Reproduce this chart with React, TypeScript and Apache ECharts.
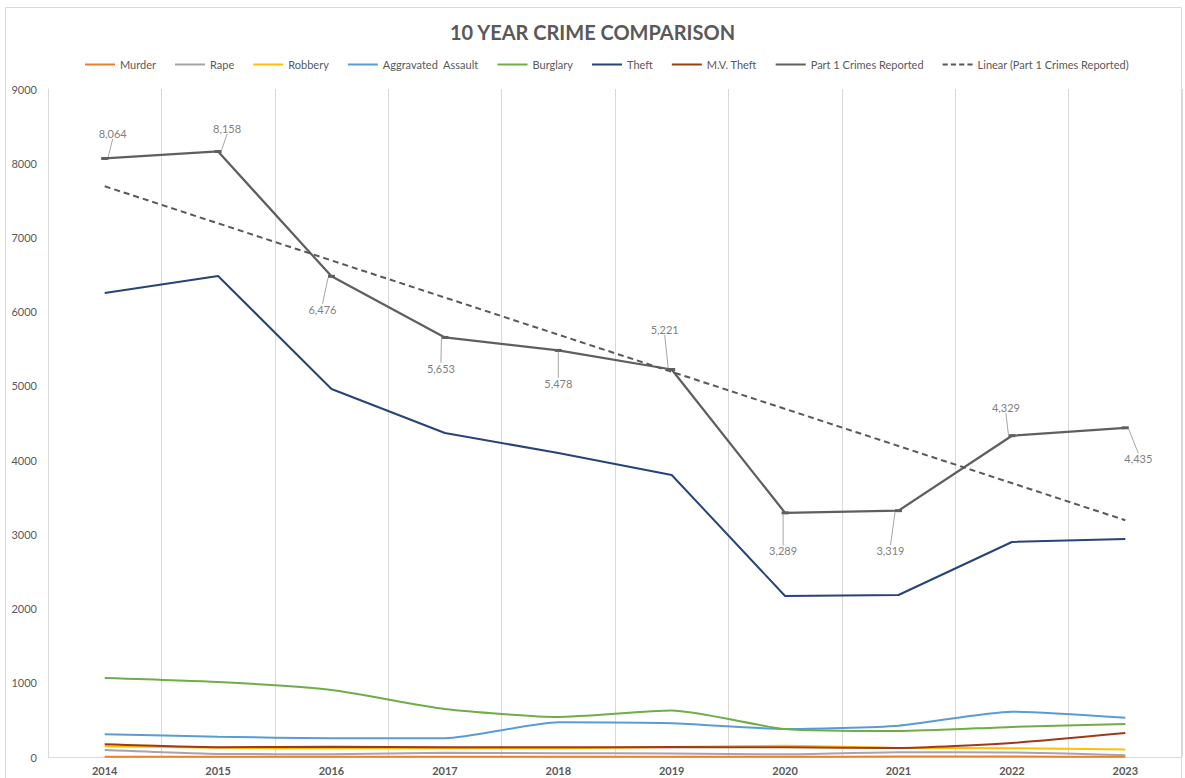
import React, { useEffect, useRef } from "react";
import * as echarts from "echarts";

const years = ["2014", "2015", "2016", "2017", "2018", "2019", "2020", "2021", "2022", "2023"];
const murder = [5, 3, 4, 5, 4, 5, 3, 6, 6, 3];
const rape = [94, 42, 38, 58, 50, 48, 36, 65, 62, 24];
const robbery = [146, 124, 117, 118, 118, 135, 150, 122, 118, 100];
const aggAssault = [306, 274, 252, 252, 467, 454, 377, 422, 611, 530];
const burglary = [1065, 1011, 903, 647, 540, 625, 377, 350, 405, 445];
const theft = [6252, 6481, 4958, 4365, 4096, 3800, 2169, 2183, 2897, 2937];
const mvTheft = [171, 132, 139, 130, 130, 135, 130, 121, 189, 323];
const part1 = [8064, 8158, 6476, 5653, 5478, 5221, 3289, 3319, 4329, 4435];
const linearTrend = [7690, null, null, null, null, null, null, null, null, 3190];

const labelDx = [8, 9, -9, -4, 0, -7, -2, -8, -6, 13];
const labelDy = [-25, -23, 33, 31, 33, -40, 38, 40, -28, 31];

const FONT = "Lato, 'Noto Sans', sans-serif";
const SOLID_ICON = "path://M0,0H30V2H0Z";
const DASH_ICON = "path://M0,0H5V2H0Z M8,0H13V2H8Z M16,0H21V2H16Z M24,0H29V2H24Z";

export default function App() {
  const ref = useRef<HTMLDivElement>(null);
  useEffect(() => {
    if (!ref.current) return;
    const chart = echarts.init(ref.current, null, { renderer: "svg" });
    const mk = (name: string, data: any[], color: string, smooth: number | boolean, width = 2, extra: any = {}) => ({
      name,
      type: "line",
      data,
      smooth,
      symbol: "none",
      lineStyle: { color, width },
      itemStyle: { color },
      ...extra,
    });
    const names = [
      "Murder",
      "Rape",
      "Robbery",
      "Aggravated  Assault",
      "Burglary",
      "Theft",
      "M.V. Theft",
      "Part 1 Crimes Reported",
      "Linear (Part 1 Crimes Reported)",
    ];
    chart.setOption({
      animation: false,
      textStyle: { fontFamily: FONT },
      title: {
        text: "10 YEAR CRIME COMPARISON",
        left: "center",
        top: 17,
        textStyle: { fontFamily: FONT, fontSize: 20, fontWeight: "bold", color: "#595959" },
      },
      legend: {
        top: 54,
        left: 80,
        itemWidth: 30,
        itemHeight: 14,
        itemGap: 19,
        itemStyle: { borderWidth: 0 },
        textStyle: { fontFamily: FONT, fontSize: 11, color: "#595959" },
        data: names.map((n, i) => ({ name: n, icon: i === 8 ? DASH_ICON : SOLID_ICON })),
      },
      graphic: [
        {
          type: "rect",
          z: -10,
          shape: { x: 5.5, y: 7.5, width: 1176, height: 780 },
          style: { fill: "none", stroke: "#d9d9d9", lineWidth: 1 },
        },
      ],
      grid: { left: 48, right: 3, top: 89, bottom: 21 },
      xAxis: {
        type: "category",
        data: years,
        boundaryGap: true,
        axisLine: { show: true, lineStyle: { color: "#d9d9d9", width: 1 } },
        axisTick: { show: false },
        splitLine: { show: true, lineStyle: { color: "#d9d9d9", width: 1 } },
        axisLabel: { fontFamily: FONT, fontSize: 11, fontWeight: "bold", color: "#595959", margin: 8 },
      },
      yAxis: {
        type: "value",
        min: 0,
        max: 9000,
        interval: 1000,
        axisLine: { show: true, lineStyle: { color: "#d9d9d9", width: 1 } },
        axisTick: { show: false },
        splitLine: { show: false },
        axisLabel: {
          fontFamily: FONT,
          fontSize: 11,
          color: "#595959",
          margin: 11,
          formatter: (v: number) => String(v),
        },
      },
      labelLayout: (p: any) => {
        if (p.seriesIndex !== 7) return {};
        return { dx: labelDx[p.dataIndex], dy: labelDy[p.dataIndex] };
      },
      series: [
        mk(names[0], murder, "#ED7D31", 0.2),
        mk(names[1], rape, "#A5A5A5", 0.2),
        mk(names[2], robbery, "#FFC000", 0.2),
        mk(names[3], aggAssault, "#5B9BD5", 0.2),
        mk(names[4], burglary, "#70AD47", 0.2),
        mk(names[5], theft, "#264478", false, 2),
        mk(names[6], mvTheft, "#9E3A14", 0.2),
        mk(names[7], part1, "#5f5f5f", false, 2.25, {
          symbol: "rect",
          symbolSize: [7, 3],
          label: {
            show: true,
            position: "inside",
            fontFamily: FONT,
            fontSize: 11,
            color: "#7f7f7f",
            formatter: (p: any) => Number(p.value).toLocaleString("en-US"),
          },
          labelLine: { show: true, lineStyle: { color: "#a6a6a6", width: 1 } },
        }),
        mk(names[8], linearTrend, "#595959", false, 2, {
          connectNulls: true,
          lineStyle: { color: "#595959", width: 2, type: [6, 4] },
        }),
      ],
    });
    return () => chart.dispose();
  }, []);
  return <div ref={ref} style={{ position: "absolute", left: 0, top: 0, width: 1185, height: 778 }} />;
}
